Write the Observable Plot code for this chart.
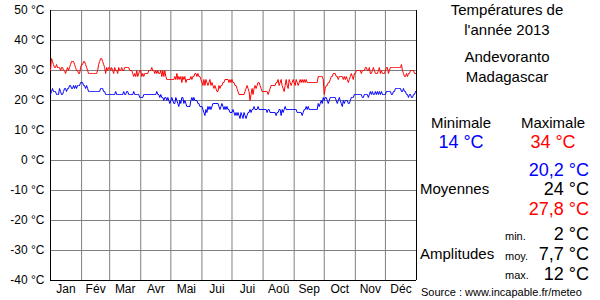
<!DOCTYPE html>
<html>
<head>
<meta charset="utf-8">
<script src="https://cdn.jsdelivr.net/npm/d3@7"></script>
<script src="https://cdn.jsdelivr.net/npm/@observablehq/plot@0.6"></script>
<style>
  body { margin: 0; background: #fff; }
  #wrap { position: relative; width: 600px; height: 300px; font-family: "Liberation Sans", Arial, sans-serif; }
  #wrap svg { position: absolute; left: 0; top: 0; }
  .t { position: absolute; white-space: nowrap; line-height: 1; }
</style>
</head>
<body>
<div id="wrap"></div>
<script>
// Daily maximum temperatures (°C), 2013, by month
const maxJan = [30,34,33,32,31,31,32,31,31,31,30,31,31,30,30,29,30,31,30,31,32,33,33,33,32,31,30,30,29,29,31];
const maxFeb = [32,32,33,33,32,31,30,29,29,29,29,29,29,29,29,29,30,32,33,34,34,33,32,31,29,31,30,31];
const maxMar = [31,30,31,30,29,31,30,30,29,31,30,30,31,30,30,31,31,31,31,31,30,30,30,29,28,29,28,30,28,29,30];
const maxApr = [30,28,29,28,29,29,29,29,30,30,30,31,30,30,29,30,29,30,29,29,30,28,30,28,30,28,27,27,27,27];
const maxMay = [27,27,27,27,28,27,29,27,28,27,28,26,28,27,28,26,27,27,27,27,28,27,28,28,29,29,28,29,28,28,27];
const maxJun = [26,25,27,25,27,26,25,26,27,25,26,25,24,25,24,23,23,25,24,25,25,26,26,27,27,27,27,26,27,26];
const maxJul = [27,26,26,25,25,24,23,22,22,22,22,22,22,23,24,25,24,23,20,22,24,22,24,25,24,25,26,26,25,24,23];
const maxAug = [23,23,23,23,23,22,23,24,25,25,25,25,25,26,26,27,25,26,27,25,24,23,25,27,25,24,27,26,25,26,27];
const maxSep = [26,25,27,26,25,26,27,26,27,26,27,26,27,26,26,26,26,26,26,26,26,26,26,26,28,28,28,28,28,27];
const maxOct = [22,24,25,25,26,26,27,28,28,29,29,29,28,28,27,28,28,28,28,27,28,27,28,27,26,27,28,29,28,27,29];
const maxNov = [29,30,30,30,30,30,29,30,30,30,31,31,30,30,31,29,29,30,31,30,29,29,29,30,31,29,30,29,29,29];
const maxDec = [30,31,31,29,30,31,31,31,31,31,31,31,31,31,31,31,32,30,29,28,28,29,28,29,29,30,30,30,30,29,29];

// Daily minimum temperatures (°C), 2013, by month
const minJan = [22,23,24,23,23,23,22,22,22,24,23,22,22,23,24,24,23,24,24,25,25,24,24,25,24,25,24,25,25,25,26];
const minFeb = [26,26,25,25,24,25,24,23,23,23,23,23,23,23,23,23,23,23,23,24,24,24,23,23,22,22,22,22];
const minMar = [22,22,22,22,22,22,23,22,22,22,22,22,22,22,23,22,22,23,23,22,22,22,22,22,23,22,22,22,22,22,21];
const minApr = [21,21,21,22,22,22,22,22,22,22,22,22,22,22,22,22,23,22,22,21,22,21,21,20,21,21,20,21,20,19];
const minMay = [20,21,20,19,19,21,20,19,18,20,19,21,21,19,20,19,18,18,18,18,20,21,20,21,20,20,20,19,19,18,18];
const minJun = [18,17,16,15,17,16,18,17,18,17,18,19,19,19,19,19,19,18,17,18,19,18,17,18,17,18,17,17,16,16];
const minJul = [16,17,16,15,16,15,16,15,14,16,15,14,16,15,14,15,16,16,17,16,17,17,18,17,17,17,18,17,17,17,17];
const minAug = [17,17,17,17,16,17,17,16,16,16,16,16,16,15,16,16,17,17,15,17,16,17,18,17,17,17,17,17,17,17,17];
const minSep = [17,17,17,16,16,16,16,16,15,16,17,17,18,17,18,17,17,17,17,17,17,17,17,17,19,18,19,20,19,21];
const minOct = [20,21,21,20,19,20,21,21,21,21,21,21,20,19,20,21,20,19,18,20,19,20,20,20,19,19,20,21,21,21,22];
const minNov = [22,22,22,22,22,22,22,21,21,22,22,22,22,21,22,23,22,23,22,22,23,22,23,22,23,22,23,22,22,22];
const minDec = [22,23,23,23,23,23,22,22,23,23,24,24,24,24,24,24,23,23,24,23,23,22,22,21,22,22,21,21,22,22,23];

const monthLabels = ["Jan","Fév","Mar","Avr","Mai","Jui","Jui","Aoû","Sep","Oct","Nov","Déc"];
const monthStarts = [0,31,59,90,120,151,181,212,243,273,304,334,365];
const yTicks = [-40,-30,-20,-10,0,10,20,30,40,50];

const maxAll = [].concat(maxJan,maxFeb,maxMar,maxApr,maxMay,maxJun,maxJul,maxAug,maxSep,maxOct,maxNov,maxDec);
const minAll = [].concat(minJan,minFeb,minMar,minApr,minMay,minJun,minJul,minAug,minSep,minOct,minNov,minDec);
const maxData = maxAll.map((v, i) => ({day: i, t: v}));
const minData = minAll.map((v, i) => ({day: i, t: v}));
const monthMids = monthLabels.map((m, i) => (monthStarts[i] + monthStarts[i + 1]) / 2);

const chart = Plot.plot({
  width: 600,
  height: 300,
  marginLeft: 50,
  marginRight: 184,
  marginTop: 10,
  marginBottom: 20,
  style: {fontFamily: "'Liberation Sans', Arial, sans-serif", fontSize: "12px", color: "#000", background: "#fff"},
  x: {domain: [0, 365], label: null},
  y: {domain: [-40, 50], label: null},
  marks: [
    Plot.gridX(monthStarts, {stroke: "#808080", strokeOpacity: 1}),
    Plot.gridY(yTicks, {stroke: "#808080", strokeOpacity: 1}),
    Plot.axisY(yTicks, {tickSize: 0, tickPadding: 6, tickFormat: d => d + " °C", fontSize: 12, label: null}),
    Plot.axisX(monthMids, {tickSize: 0, tickPadding: 4, tickFormat: (d, i) => monthLabels[i], fontSize: 12, label: null}),
    Plot.ruleX([0, 365], {stroke: "#000"}),
    Plot.ruleY([-40], {stroke: "#000"}),
    Plot.line(maxData, {x: "day", y: "t", stroke: "#ff0000", strokeWidth: 1}),
    Plot.line(minData, {x: "day", y: "t", stroke: "#0000ff", strokeWidth: 1})
  ]
});

const wrap = document.getElementById("wrap");
wrap.appendChild(chart);

function addText(txt, opts) {
  const d = document.createElement("div");
  d.className = "t";
  d.textContent = txt;
  Object.assign(d.style, opts);
  wrap.appendChild(d);
}
// right panel (center column ~507)
const C = (x) => ({left: (x - 100) + "px", width: "200px", textAlign: "center"});
addText("Températures de", {...C(507), top: "2px", fontSize: "15px"});
addText("l'année 2013", {...C(507), top: "22px", fontSize: "15px"});
addText("Andevoranto", {...C(507), top: "49px", fontSize: "15px"});
addText("Madagascar", {...C(507), top: "69px", fontSize: "15px"});
addText("Minimale", {...C(461), top: "115px", fontSize: "15px"});
addText("Maximale", {...C(553), top: "115px", fontSize: "15px"});
addText("14 °C", {...C(461), top: "133px", fontSize: "18px", color: "#0000ff"});
addText("34 °C", {...C(553), top: "133px", fontSize: "18px", color: "#ff0000"});
const R = {right: "11px", textAlign: "right"};
addText("20,2 °C", {...R, top: "161px", fontSize: "18px", color: "#0000ff"});
addText("24 °C", {...R, top: "180px", fontSize: "18px", color: "#000"});
addText("27,8 °C", {...R, top: "200px", fontSize: "18px", color: "#ff0000"});
addText("Moyennes", {left: "420px", top: "181px", fontSize: "15px"});
addText("2 °C", {...R, top: "225px", fontSize: "18px"});
addText("7,7 °C", {...R, top: "245px", fontSize: "18px"});
addText("12 °C", {...R, top: "265px", fontSize: "18px"});
addText("min.", {left: "505px", top: "231px", fontSize: "11px"});
addText("moy.", {left: "505px", top: "251px", fontSize: "11px"});
addText("max.", {left: "505px", top: "270px", fontSize: "11px"});
addText("Amplitudes", {left: "420px", top: "246px", fontSize: "15px"});
addText("Source : www.incapable.fr/meteo", {left: "421px", top: "287px", fontSize: "11px"});
</script>
</body>
</html>
